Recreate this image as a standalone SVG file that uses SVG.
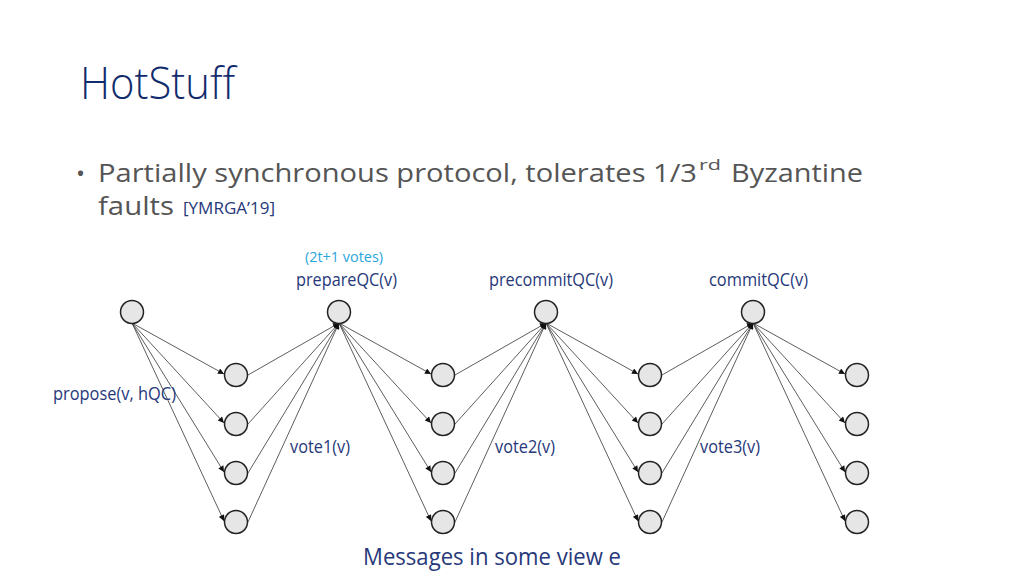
<svg xmlns="http://www.w3.org/2000/svg" width="1024" height="576" viewBox="0 0 1024 576">
<style>
.node{fill:#e6e6e6;stroke:#222;stroke-width:1.5}
.e{stroke:#333;stroke-width:0.8;fill:none;marker-end:url(#ah)}
.lbl{font-family:"Open Sans","Noto Sans",sans-serif;fill:#27397a;font-size:18px}
</style>
<defs>
<marker id="ah" viewBox="0 0 10 10" refX="10" refY="5" markerWidth="8" markerHeight="6" markerUnits="userSpaceOnUse" orient="auto">
<path d="M0,0 L10,5 L0,10 z" fill="#111"/>
</marker>
</defs>
<rect width="1024" height="576" fill="#fff"/>
<text x="80" y="99" font-family="Open Sans, Noto Sans, sans-serif" font-size="45" font-weight="300" fill="#112c6c" textLength="155" lengthAdjust="spacingAndGlyphs">HotStuff</text>
<g font-family="Open Sans, Noto Sans, sans-serif" fill="#555">
<text x="76" y="182" font-size="24">•</text>
<text x="98" y="182" font-size="26" textLength="599" lengthAdjust="spacingAndGlyphs">Partially synchronous protocol, tolerates 1/3</text>
<text x="699" y="170" font-size="15" textLength="22" lengthAdjust="spacingAndGlyphs">rd</text>
<text x="731" y="182" font-size="26" textLength="132" lengthAdjust="spacingAndGlyphs">Byzantine</text>
<text x="98" y="215" font-size="26" textLength="76" lengthAdjust="spacingAndGlyphs">faults</text>
<text x="183" y="214" font-size="16" fill="#27397a" textLength="92" lengthAdjust="spacingAndGlyphs">[YMRGA’19]</text>
</g>
<g id="connectors">
<line class="e" x1="132" y1="323" x2="224" y2="374"/>
<line class="e" x1="132" y1="323" x2="224" y2="423"/>
<line class="e" x1="132" y1="323" x2="224" y2="472"/>
<line class="e" x1="132" y1="323" x2="224" y2="521"/>
<line class="e" x1="248" y1="375" x2="339" y2="323"/>
<line class="e" x1="248" y1="424" x2="339" y2="323"/>
<line class="e" x1="248" y1="473" x2="339" y2="323"/>
<line class="e" x1="248" y1="522" x2="339" y2="323"/>
<line class="e" x1="339" y1="323" x2="431" y2="374"/>
<line class="e" x1="339" y1="323" x2="431" y2="423"/>
<line class="e" x1="339" y1="323" x2="431" y2="472"/>
<line class="e" x1="339" y1="323" x2="431" y2="521"/>
<line class="e" x1="455" y1="375" x2="546" y2="323"/>
<line class="e" x1="455" y1="424" x2="546" y2="323"/>
<line class="e" x1="455" y1="473" x2="546" y2="323"/>
<line class="e" x1="455" y1="522" x2="546" y2="323"/>
<line class="e" x1="546" y1="323" x2="638" y2="374"/>
<line class="e" x1="546" y1="323" x2="638" y2="423"/>
<line class="e" x1="546" y1="323" x2="638" y2="472"/>
<line class="e" x1="546" y1="323" x2="638" y2="521"/>
<line class="e" x1="662" y1="375" x2="753" y2="323"/>
<line class="e" x1="662" y1="424" x2="753" y2="323"/>
<line class="e" x1="662" y1="473" x2="753" y2="323"/>
<line class="e" x1="662" y1="522" x2="753" y2="323"/>
<line class="e" x1="753" y1="323" x2="845" y2="374"/>
<line class="e" x1="753" y1="323" x2="845" y2="423"/>
<line class="e" x1="753" y1="323" x2="845" y2="472"/>
<line class="e" x1="753" y1="323" x2="845" y2="521"/>
</g>
<g id="leader"><circle class="node" cx="132" cy="312" r="11.5"/></g>
<g id="prepareQC"><circle class="node" cx="339" cy="312" r="11.5"/></g>
<g id="precommitQC"><circle class="node" cx="546" cy="312" r="11.5"/></g>
<g id="commitQC"><circle class="node" cx="753" cy="312" r="11.5"/></g>
<g id="col1">
<circle class="node" cx="236" cy="375" r="11.5"/><circle class="node" cx="236" cy="424" r="11.5"/><circle class="node" cx="236" cy="473" r="11.5"/><circle class="node" cx="236" cy="522" r="11.5"/>
</g>
<g id="col2">
<circle class="node" cx="443" cy="375" r="11.5"/><circle class="node" cx="443" cy="424" r="11.5"/><circle class="node" cx="443" cy="473" r="11.5"/><circle class="node" cx="443" cy="522" r="11.5"/>
</g>
<g id="col3">
<circle class="node" cx="650" cy="375" r="11.5"/><circle class="node" cx="650" cy="424" r="11.5"/><circle class="node" cx="650" cy="473" r="11.5"/><circle class="node" cx="650" cy="522" r="11.5"/>
</g>
<g id="col4">
<circle class="node" cx="857" cy="375" r="11.5"/><circle class="node" cx="857" cy="424" r="11.5"/><circle class="node" cx="857" cy="473" r="11.5"/><circle class="node" cx="857" cy="522" r="11.5"/>
</g>
<g id="labels">
<text class="lbl" x="305" y="262" style="fill:#2aa6dc;font-size:15px" textLength="78" lengthAdjust="spacingAndGlyphs">(2t+1 votes)</text>
<text class="lbl" x="296" y="286" textLength="101" lengthAdjust="spacingAndGlyphs">prepareQC(v)</text>
<text class="lbl" x="489" y="286" textLength="124" lengthAdjust="spacingAndGlyphs">precommitQC(v)</text>
<text class="lbl" x="709" y="286" textLength="99" lengthAdjust="spacingAndGlyphs">commitQC(v)</text>
<text class="lbl" x="53" y="400" textLength="123" lengthAdjust="spacingAndGlyphs">propose(v, hQC)</text>
<text class="lbl" x="290" y="453" textLength="60" lengthAdjust="spacingAndGlyphs">vote1(v)</text>
<text class="lbl" x="495" y="453" textLength="60" lengthAdjust="spacingAndGlyphs">vote2(v)</text>
<text class="lbl" x="700" y="453" textLength="60" lengthAdjust="spacingAndGlyphs">vote3(v)</text>
<text class="lbl" x="363" y="565" style="font-size:24px" textLength="258" lengthAdjust="spacingAndGlyphs">Messages in some view e</text>
</g>
</svg>
